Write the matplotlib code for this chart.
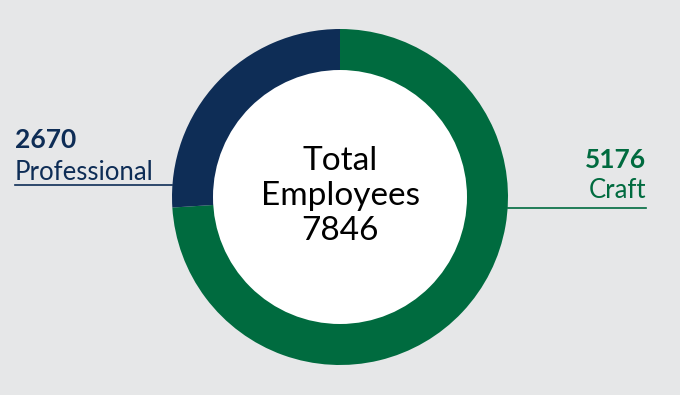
import matplotlib.pyplot as plt
from matplotlib.patches import Circle

# 数据
categories = ['Craft', 'Professional']
counts = [5176, 2670]
total = 7846
# arc shares as drawn in the picture (%)
arc_share = [74, 26]

green = '#006b3f'
navy = '#0e2d56'
bg = '#e6e7e8'

plt.rcParams['font.family'] = ['Lato', 'DejaVu Sans']

fig = plt.figure(figsize=(6.8, 3.95), dpi=100, facecolor=bg)
ax = fig.add_axes([0, 0, 1, 1])
ax.set_facecolor(bg)

cx, cy = 340, 198
ax.pie(arc_share, colors=[green, navy], startangle=90, counterclock=False,
       radius=168, center=(cx, cy), wedgeprops=dict(linewidth=0))
ax.add_patch(Circle((cx, cy), 127, facecolor='white', edgecolor='none', zorder=3))
ax.set_xlim(0, 680)
ax.set_ylim(0, 395)
ax.set_aspect('equal')
ax.axis('off')

# 中心文字
ax.text(cx, 395 - 196, 'Total\nEmployees\n%d' % total, ha='center', va='center',
        fontsize=24, linespacing=1.22, color='black', zorder=4)

# 左侧标签
ax.text(15, 395 - 140, str(counts[1]), fontsize=19, fontweight='bold',
        color=navy, ha='left', va='center')
ax.text(15, 395 - 172, categories[1], fontsize=18.5, color=navy,
        ha='left', va='center')
ax.plot([15, 172], [395 - 185, 395 - 185], color=navy, lw=1.2)

# 右侧标签
ax.text(646, 395 - 160, str(counts[0]), fontsize=19, fontweight='bold',
        color=green, ha='right', va='center')
ax.text(646, 395 - 191, categories[0], fontsize=18.5, color=green,
        ha='right', va='center')
ax.plot([508, 646], [395 - 208, 395 - 208], color=green, lw=1.2)

plt.savefig('out.png', dpi=100, facecolor=bg)
